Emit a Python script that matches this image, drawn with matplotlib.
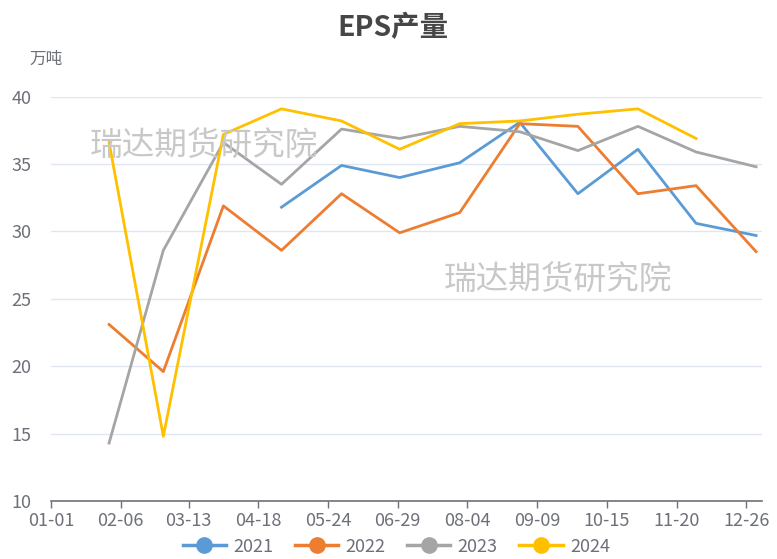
import matplotlib.pyplot as plt
import pandas as pd
from matplotlib.lines import Line2D

plt.rcParams['font.family'] = ['Noto Sans CJK SC', 'DejaVu Sans']

# month-end dates (plotted on a common year)
months = ["01-31", "02-28", "03-31", "04-30", "05-31", "06-30",
          "07-31", "08-31", "09-30", "10-31", "11-30", "12-31"]

eps_2021 = [None, None, None, 31.8, 34.9, 34.0, 35.1, 38.1, 32.8, 36.1, 30.6, 29.7]
eps_2022 = [23.1, 19.6, 31.9, 28.6, 32.8, 29.9, 31.4, 38.0, 37.8, 32.8, 33.4, 28.5]
eps_2023 = [14.3, 28.6, 36.6, 33.5, 37.6, 36.9, 37.8, 37.4, 36.0, 37.8, 35.9, 34.8]
eps_2024 = [36.6, 14.8, 37.2, 39.1, 38.2, 36.1, 38.0, 38.2, 38.7, 39.1, 36.9, None]

tick_labels = ["01-01", "02-06", "03-13", "04-18", "05-24", "06-29",
               "08-04", "09-09", "10-15", "11-20", "12-26"]

series = {
    "2021": (eps_2021, "#5B9BD5"),
    "2022": (eps_2022, "#ED7D31"),
    "2023": (eps_2023, "#A5A5A5"),
    "2024": (eps_2024, "#FFC000"),
}

def day_of_year(md):
    return pd.Timestamp("2023-" + md).dayofyear - 1

x_days = [day_of_year(m) for m in months]
tick_days = [day_of_year(t) for t in tick_labels]

fig = plt.figure(figsize=(7.77, 5.59), dpi=100)
ax = fig.add_axes([0.0656, 0.1038, 0.915, 0.7232])

axis_color = "#6E7079"

for name, (vals, color) in series.items():
    xs = [x for x, v in zip(x_days, vals) if v is not None]
    ys = [v for v in vals if v is not None]
    ax.plot(xs, ys, color=color, linewidth=2.0, zorder=3)

ax.set_xlim(0, 367)
ax.set_ylim(10, 40)
ax.set_yticks(range(10, 41, 5))
ax.set_xticks(tick_days)
ax.set_xticklabels(tick_labels)

ax.grid(axis="y", color="#E0E6F1", linewidth=1, zorder=0)
for side in ["top", "right", "left"]:
    ax.spines[side].set_visible(False)
ax.spines["bottom"].set_color(axis_color)
ax.spines["bottom"].set_linewidth(1.2)
ax.spines["bottom"].set_zorder(4)

ax.tick_params(axis="x", colors=axis_color, labelsize=13, length=5, width=1, pad=3)
ax.tick_params(axis="y", colors=axis_color, labelsize=13, length=0, pad=14)

# watermarks
fig.text(0.115, 0.738, "瑞达期货研究院", fontsize=23.5, color="#C8C8C8",
         va="center", ha="left", zorder=1)
fig.text(0.571, 0.498, "瑞达期货研究院", fontsize=23.5, color="#C8C8C8",
         va="center", ha="left", zorder=1)

fig.text(0.506, 0.95, "EPS产量", fontsize=20.5, fontweight="bold", color="#464646",
         ha="center", va="center")
fig.text(0.038, 0.893, "万吨", fontsize=12, color=axis_color, ha="left", va="center")

handles = [Line2D([0], [0], color=c, linewidth=2.5, marker="o", markersize=11)
           for _, (v, c) in series.items()]
fig.legend(handles, list(series.keys()), loc="center", bbox_to_anchor=(0.51, 0.022),
           ncol=4, frameon=False, fontsize=13, handlelength=2.4, handletextpad=0.4,
           columnspacing=1.2, labelcolor=axis_color)

fig.savefig("out.png", dpi=100)
